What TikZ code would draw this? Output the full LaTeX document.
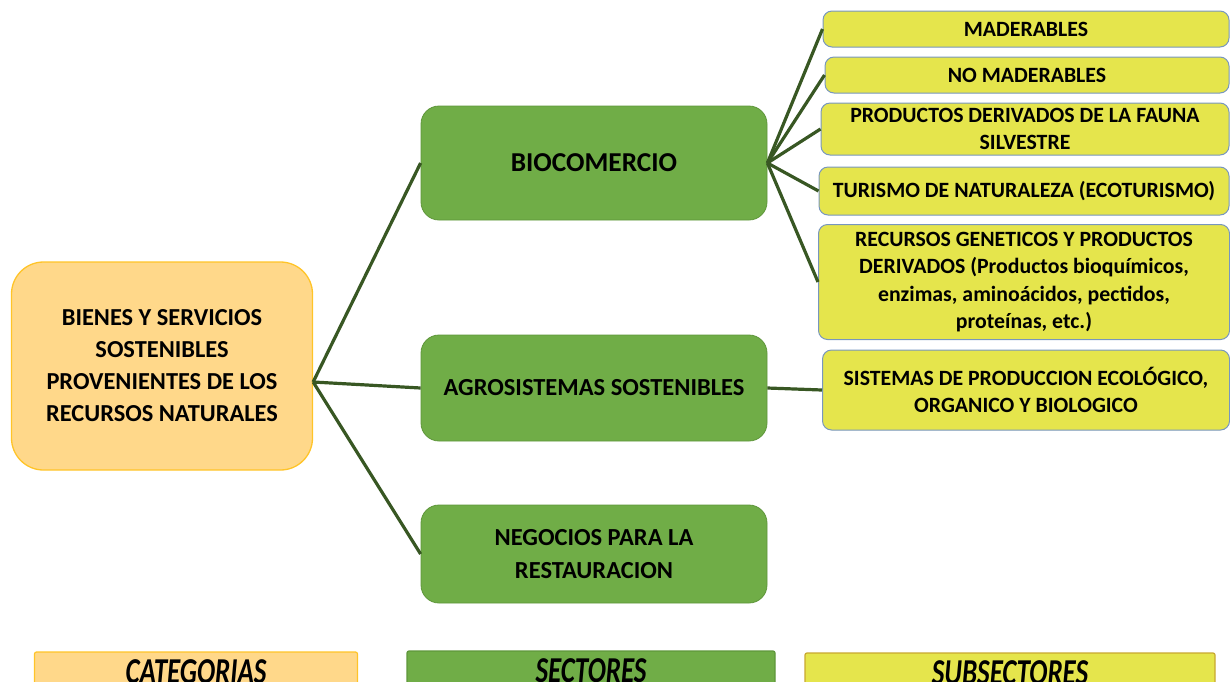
\documentclass[tikz,border=0pt]{standalone}
\usepackage{fontspec}
\setmainfont{Carlito}
\usepackage{tikz}
\usetikzlibrary{positioning}

\begin{document}
\begin{tikzpicture}[x=1pt,y=-1pt,
  catbox/.style={draw=catline,line width=1.3pt,fill=catfill,rounded corners=32pt,
    minimum width=301pt,minimum height=208pt,align=center,
    font=\fontsize{24.4}{32}\selectfont\bfseries},
  sectorbox/.style={draw=secline,line width=0.8pt,fill=secfill,rounded corners=18pt,
    minimum width=346pt,align=center,font=\fontsize{24.5}{33}\selectfont\bfseries},
  subbox/.style={draw=subline,line width=1pt,fill=subfill,rounded corners=9pt,
    minimum width=408pt,align=center,inner sep=2pt,font=\fontsize{21.8}{27.3}\selectfont\bfseries},
  legbox/.style={line width=1.2pt,rounded corners=2pt,minimum height=40pt,inner sep=0pt,
    font=\fontsize{27}{27}\selectfont\bfseries\itshape},
  link/.style={draw=linkcol,line width=3.2pt}
]
% Define colors
\definecolor{catfill}{RGB}{255,216,138}
\definecolor{catline}{RGB}{255,196,40}
\definecolor{secfill}{RGB}{112,173,71}
\definecolor{secline}{RGB}{94,150,58}
\definecolor{subfill}{RGB}{229,229,76}
\definecolor{subline}{RGB}{120,150,190}
\definecolor{legline}{RGB}{200,168,48}
\definecolor{linkcol}{RGB}{56,87,35}

\useasboundingbox (0,0) rectangle (1230,681);

% Category
\node[catbox] (bienes) at (162,366) {BIENES Y SERVICIOS\\SOSTENIBLES\\PROVENIENTES DE LOS\\RECURSOS NATURALES};

% Sectors
\node[sectorbox,minimum height=114pt,font=\fontsize{27.3}{33}\selectfont\bfseries] (bio) at (594,163) {BIOCOMERCIO};
\node[sectorbox,minimum height=106pt] (agro) at (594,388) {AGROSISTEMAS SOSTENIBLES};
\node[sectorbox,minimum height=98pt] (nego) at (594,554) {NEGOCIOS PARA LA\\RESTAURACION};

% Subsectors
\node[subbox,minimum height=36pt,minimum width=406pt] (mad) at (1026,29) {MADERABLES};
\node[subbox,minimum height=36pt,minimum width=404pt] (nomad) at (1027,75) {NO MADERABLES};
\node[subbox,minimum height=52pt] (fauna) at (1025,129) {PRODUCTOS DERIVADOS DE LA FAUNA\\SILVESTRE};
\node[subbox,minimum height=48pt,minimum width=410pt] (turismo) at (1024,191) {TURISMO DE NATURALEZA (ECOTURISMO)};
\node[subbox,minimum height=115pt,minimum width=411pt] (genet) at (1024,282) {RECURSOS GENETICOS Y PRODUCTOS\\DERIVADOS (Productos bioquímicos,\\enzimas, aminoácidos, pectidos,\\proteínas, etc.)};
\node[subbox,minimum height=80pt,minimum width=407pt] (eco) at (1026,390) {SISTEMAS DE PRODUCCION ECOLÓGICO,\\ORGANICO Y BIOLOGICO};

% Connectors
\coordinate (hub) at ([yshift=-16pt]bienes.east);
\draw[link] (hub) -- (bio.west);
\draw[link] (hub) -- (agro.west);
\draw[link] (hub) -- (nego.west);
\foreach \s in {mad,nomad,fauna,turismo,genet}
  \draw[link] (bio.east) -- (\s.west);
\draw[link] (agro.east) -- (eco.west);

% Legend
\node[legbox,draw=catline,fill=catfill,minimum width=323pt] (lcat) at (196,672) {\scalebox{1}[1.35]{CATEGORIAS}};
\node[legbox,draw=secline,fill=secfill,minimum width=368pt] (lsec) at (591,671) {\scalebox{1}[1.35]{SECTORES}};
\node[legbox,draw=legline,fill=subfill,minimum width=410pt] (lsub) at (1010,673) {\scalebox{1}[1.35]{SUBSECTORES}};
\end{tikzpicture}
\end{document}
